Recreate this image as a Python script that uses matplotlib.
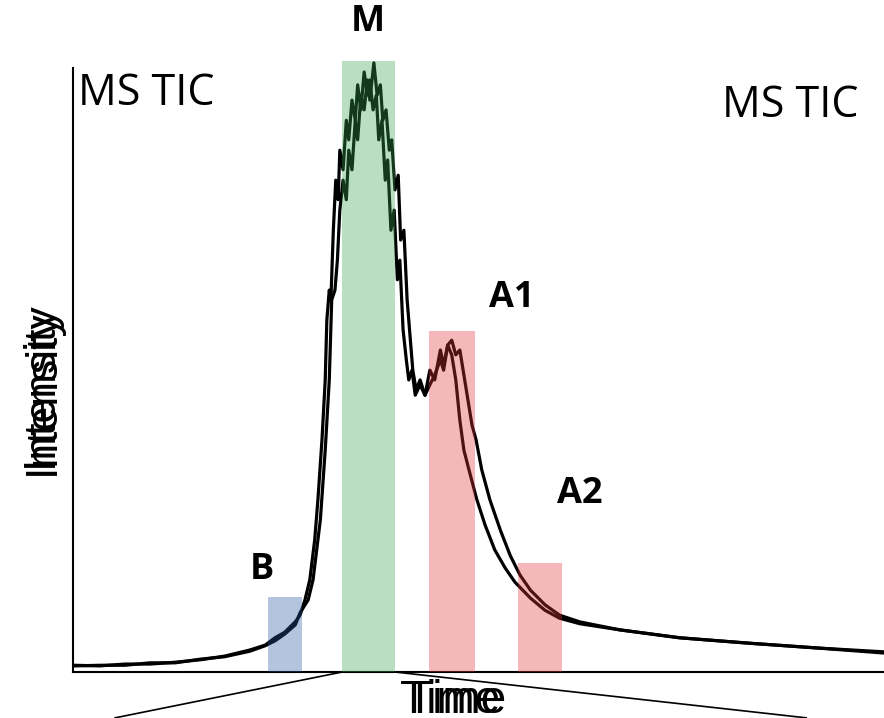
import matplotlib
matplotlib.use("Agg")
import matplotlib.pyplot as plt
from matplotlib.patches import Rectangle

# ---- data (arbitrary units: time 0-100, intensity 0-100) ----
time_1 = [0.2, 3.3, 6.4, 9.5, 12.6, 15.7, 18.7, 21.8, 23.7, 24.9, 26.1, 27.4, 28.0, 28.6,
          29.2, 29.8, 30.2, 30.7, 31.1, 31.3, 31.6, 31.8, 32.1, 32.4, 32.7, 32.9, 33.3,
          33.7, 34.0, 34.4, 34.8, 35.1, 35.5, 35.9, 36.3, 36.6, 37.0, 37.4, 37.7, 38.1,
          38.5, 38.8, 39.2, 39.6, 40.0, 40.3, 40.7, 41.1, 41.4, 41.8, 42.2, 42.8, 43.4,
          44.0, 44.6, 45.3, 45.7, 46.2, 46.7, 47.2, 47.7, 48.2, 49.0, 49.8, 50.8, 52.0,
          53.3, 54.5, 56.4, 58.2, 60.0, 62.5, 67.4, 74.8, 83.5, 92.1, 100.0]
intensity_1 = [1.1, 1.0, 1.3, 1.3, 1.6, 2.0, 2.6, 3.6, 4.4, 5.6, 6.5, 8.2, 9.3, 11.8,
               15.1, 21.6, 28.2, 38.0, 47.8, 57.6, 62.5, 60.9, 72.3, 80.5, 77.3, 85.4, 82.2,
               90.3, 87.1, 93.6, 90.3, 96.1, 92.0, 98.2, 94.4, 96.9, 92.0, 94.4, 87.1, 90.3,
               80.5, 83.8, 72.3, 75.6, 64.2, 67.4, 56.0, 51.1, 47.8, 49.4, 45.3, 47.0, 45.3,
               49.4, 47.8, 52.7, 50.2, 53.5, 51.9, 47.8, 41.2, 36.3, 32.2, 28.2, 24.1, 20.0,
               17.0, 14.7, 12.1, 10.1, 8.8, 7.9, 6.9, 5.6, 4.7, 3.9, 3.3]

time_2 = [0.2, 3.3, 6.4, 9.5, 12.6, 15.7, 18.7, 21.8, 23.7, 24.9, 26.1, 27.4, 28.0, 29.0,
          29.6, 30.5, 31.1, 31.6, 31.9, 32.3, 32.6, 32.9, 33.3, 33.7, 34.0, 34.4, 34.8,
          35.1, 35.5, 35.9, 36.3, 36.6, 37.1, 37.5, 37.9, 38.2, 38.6, 39.0, 39.3, 39.7,
          40.1, 40.4, 40.8, 41.2, 41.6, 41.9, 42.3, 42.8, 43.4, 44.0, 44.6, 45.3, 45.7,
          46.2, 46.7, 47.2, 47.7, 48.2, 48.7, 49.2, 49.7, 50.4, 51.4, 52.7, 53.9, 55.1,
          56.4, 58.2, 60.0, 62.5, 67.4, 74.8, 83.5, 92.1, 100.0]
intensity_2 = [1.0, 1.1, 1.1, 1.5, 1.5, 2.1, 2.5, 3.4, 4.3, 5.1, 6.2, 7.7, 9.7, 11.8,
               15.1, 24.9, 36.3, 47.8, 60.9, 62.5, 67.4, 75.6, 80.5, 77.3, 85.4, 82.2, 90.3,
               87.1, 94.4, 92.0, 96.9, 93.6, 99.7, 94.4, 96.1, 90.3, 92.0, 85.4, 87.1, 78.9,
               81.3, 70.7, 72.3, 60.9, 54.3, 49.4, 46.2, 47.8, 45.3, 47.0, 48.6, 51.1, 49.4,
               53.5, 54.3, 51.9, 52.7, 48.6, 44.5, 40.4, 38.0, 33.1, 28.2, 23.2, 19.1, 15.9,
               13.4, 11.0, 9.3, 8.2, 6.9, 5.6, 4.7, 3.9, 3.1]

# highlighted windows: label, start, end, height, colour
window_labels = ["B", "M", "A1", "A2"]
window_start = [24.0, 33.2, 43.9, 54.9]
window_end = [28.2, 39.7, 49.6, 60.3]
window_height = [12.3, 100.0, 55.8, 17.8]
window_colors = ["#2954A1", "#34A64E", "#E0343A", "#E0343A"]
label_pos = [(23.3, 16.7), (36.3, 106.4), (54.1, 61.2), (62.5, 29.1)]

fig = plt.figure(figsize=(8.84, 7.18), dpi=100)
ax = fig.add_axes([73 / 884, 46 / 718, 1 - 73 / 884, 611 / 718])
ax.set_xlim(0, 100)
ax.set_ylim(0, 100)

ax.plot(time_1, intensity_1, color="black", lw=2.3, zorder=2)
ax.plot(time_2, intensity_2, color="black", lw=2.3, zorder=2)

for lab, s, e, h, c, (lx, ly) in zip(window_labels, window_start, window_end,
                                       window_height, window_colors, label_pos):
    ax.add_patch(Rectangle((s, 0), e - s, h, facecolor=c, alpha=0.35,
                           edgecolor="none", zorder=3, clip_on=False))
    ax.text(lx, ly, lab, ha="center", va="center", fontsize=26, fontweight="bold",
            family="Open Sans", clip_on=False, zorder=4)

# zoom lines from M window
m = window_labels.index("M")
ax.plot([window_start[m], 5.2], [0, -7.5], color="black", lw=1.2, clip_on=False)
ax.plot([window_end[m], 90.4], [0, -7.5], color="black", lw=1.2, clip_on=False)

for side in ["top", "right"]:
    ax.spines[side].set_visible(False)
ax.spines["left"].set_linewidth(1.5)
ax.spines["bottom"].set_linewidth(1.5)
ax.spines["left"].set_bounds(0, 98.9)
ax.set_xticks([])
ax.set_yticks([])

ax.text(0.6, 92.8, "MS TIC", fontsize=31, family="Open Sans", va="baseline", ha="left")
ax.text(80.0, 90.8, "MS TIC", fontsize=31, family="Open Sans", va="baseline", ha="left")

# doubled axis titles
for dx in (0, 6):
    fig.text((450 + dx) / 884, 1 - 713 / 718, "Time", fontsize=33,
             family="Liberation Sans", ha="center", va="baseline")
for dx, dy in ((0, 0), (2, 8)):
    fig.text((40 + dx) / 884, 1 - (384 + dy) / 718, "Intensity", fontsize=32, rotation=90,
             family="Liberation Sans", ha="center", va="center")

fig.savefig("out.png", dpi=100)
